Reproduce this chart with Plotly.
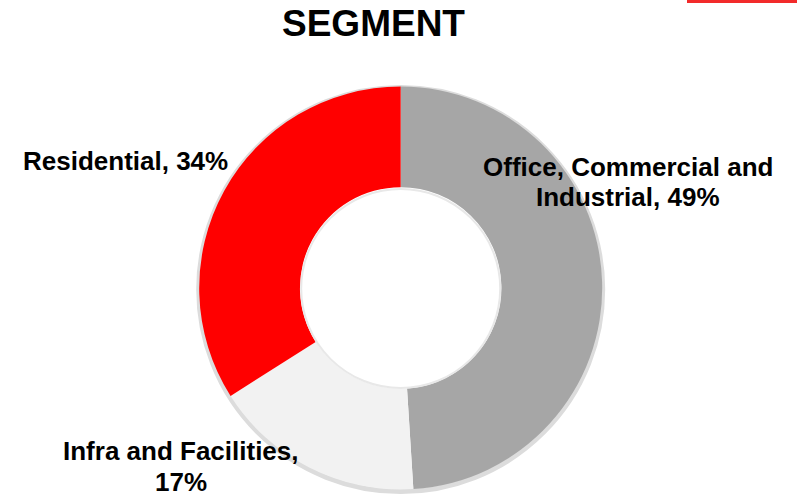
import plotly.graph_objects as go

# Data
segments = ["Office, Commercial and Industrial", "Infra and Facilities", "Residential"]
shares = [49, 17, 34]
colors = ["#A6A6A6", "#F2F2F2", "#FF0000"]
label_lines = [["Office, Commercial and", "Industrial, 49%"],
               ["Infra and Facilities,", "17%"],
               ["Residential, 34%"]]

W, H = 797, 496
cx, cy, r = 400.7, 288.0, 201.5

def px(x):
    return x / W

def py(y):
    return 1 - y / H

fig = go.Figure()
fig.add_trace(go.Pie(
    labels=segments,
    values=shares,
    marker=dict(colors=colors, line=dict(width=0)),
    hole=0.5,
    sort=False,
    direction="clockwise",
    rotation=0,
    textinfo="none",
    hoverinfo="label+percent",
    showlegend=False,
    domain=dict(x=[px(cx - r), px(cx + r)], y=[py(cy + r), py(cy - r)]),
))

shapes = [
    # soft outer shadow ring
    dict(type="circle", xref="paper", yref="paper", layer="below",
         x0=px(cx - r - 0.5), x1=px(cx + r + 0.5), y0=py(cy + r + 2), y1=py(cy - r + 1),
         fillcolor="rgba(0,0,0,0)", line=dict(width=5, color="#DCDCDC")),
    # inner hole shading
    dict(type="circle", xref="paper", yref="paper", layer="above",
         x0=px(cx - 99.5), x1=px(cx + 99.5), y0=py(cy + 100), y1=py(cy - 99),
         fillcolor="rgba(0,0,0,0)", line=dict(width=2, color="#E8E8E8")),
    # red bar at top right
    dict(type="rect", xref="paper", yref="paper", layer="above",
         x0=px(687), x1=1, y0=py(3), y1=1,
         fillcolor="#F22A2A", line=dict(width=0)),
]

label_pos = [(627.5, [167, 197]), (181, [451, 482]), (125.5, [161])]
font = dict(family="Liberation Sans, Arial, sans-serif", size=26, color="#000000")
annotations = []
for lines, (x, ys) in zip(label_lines, label_pos):
    for line, y in zip(lines, ys):
        annotations.append(dict(
            text="<b>" + line + "</b>", x=px(x), y=py(y), xref="paper", yref="paper",
            xanchor="center", yanchor="middle", showarrow=False, align="center",
            font=font,
        ))
annotations.append(dict(
    text="<b>SEGMENT</b>", x=px(373.5), y=py(24), xref="paper", yref="paper",
    xanchor="center", yanchor="middle", showarrow=False,
    font=dict(family="Liberation Sans, Arial, sans-serif", size=37, color="#000000"),
))

fig.update_layout(
    width=W, height=H,
    margin=dict(l=0, r=0, t=0, b=0),
    paper_bgcolor="#FFFFFF",
    plot_bgcolor="#FFFFFF",
    shapes=shapes,
    annotations=annotations,
)

fig.write_html("out.html",
               config={"displayModeBar": False},
               post_script="document.body.style.margin='0';document.body.style.padding='0';")
